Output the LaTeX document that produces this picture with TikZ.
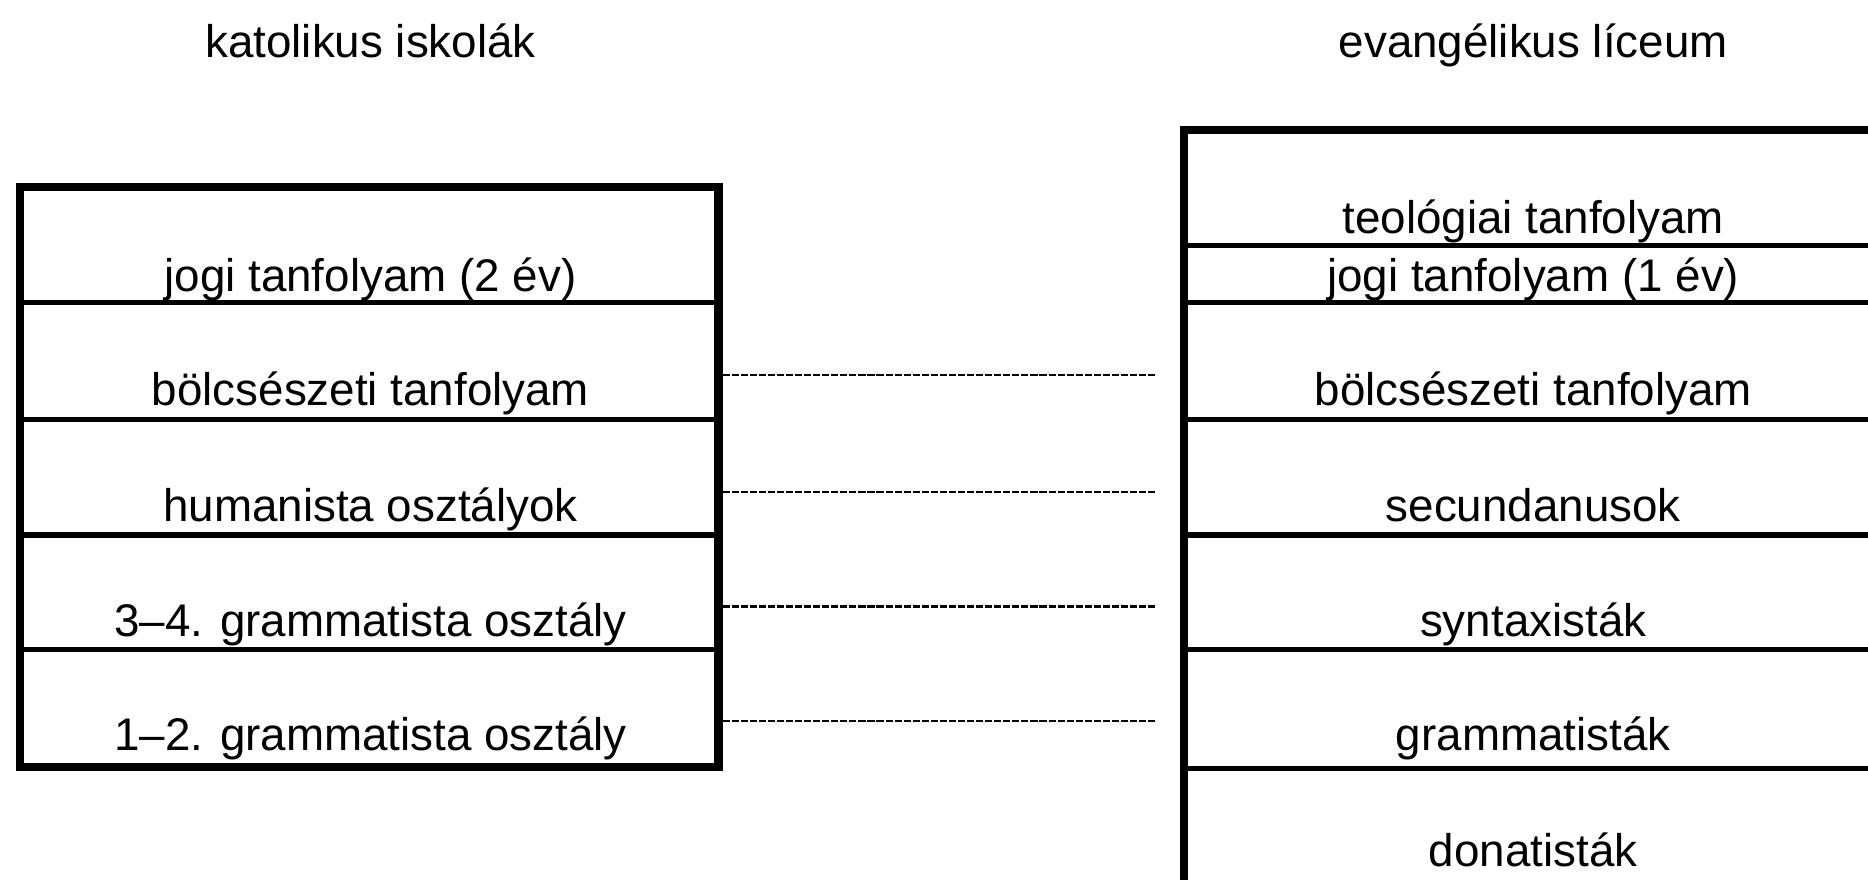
\documentclass[tikz,border=0pt]{standalone}
\usepackage{fontspec}
\setmainfont{Liberation Sans}
\usetikzlibrary{fit}
\begin{document}
\begin{tikzpicture}[x=0.5pt,y=-0.5pt,
  frame/.style={draw=black, line width=3.5pt, inner sep=0pt, rectangle},
  rule/.style={draw=black, line width=2.3pt},
  lbl/.style={inner sep=0pt, anchor=base, font=\fontsize{19.2}{23}\selectfont},
  conn/.style={draw=black, line width=1pt, dash pattern=on 3pt off 0.8pt, shorten >=10pt}]
\useasboundingbox (0,0) rectangle (1568,738);
\clip (0,0) rectangle (1568,738);
\fill[white] (0,0) rectangle (1568,738);
% titles
\node[lbl] (tl) at (311,48) {katolikus iskolák};
\node[lbl] (tr) at (1287,48) {evangélikus líceum};
% left box
\coordinate (lnw) at (17,157);
\coordinate (lse) at (603,644);
\node[frame, fit=(lnw)(lse)] (lbox) {};
\foreach \yy in {254,352,449,545} \draw[rule] (17,\yy) -- (603,\yy);
\node[lbl] (l1) at (311,245) {jogi tanfolyam (2 év)};
\node[lbl] (l2) at (311,340) {bölcsészeti tanfolyam};
\node[lbl] (l3) at (311,438) {humanista osztályok};
\node[lbl] (l4) at (311,534) {3–4. grammatista osztály};
\node[lbl] (l5) at (311,630) {1–2. grammatista osztály};
% right box
\coordinate (rnw) at (994,109);
\coordinate (rse) at (1582,790);
\node[frame, fit=(rnw)(rse)] (rbox) {};
\foreach \yy in {206,254,352,449,545,645} \draw[rule] (994,\yy) -- (1582,\yy);
\node[lbl] (r1) at (1287,196) {teológiai tanfolyam};
\node[lbl] (r2) at (1287,245) {jogi tanfolyam (1 év)};
\node[lbl] (r3) at (1287,340) {bölcsészeti tanfolyam};
\node[lbl] (r4) at (1287,438) {secundanusok};
\node[lbl] (r5) at (1287,534) {syntaxisták};
\node[lbl] (r6) at (1287,630) {grammatisták};
\node[lbl] (r7) at (1287,727) {donatisták};
% connectors
\draw[conn] ([yshift=12.5pt]l2.base -| lbox.east) -- ([yshift=12.5pt]r3.base -| rbox.west);
\draw[conn] ([yshift=12.5pt]l3.base -| lbox.east) -- ([yshift=12.5pt]r4.base -| rbox.west);
\draw[conn] ([yshift=12.5pt]l4.base -| lbox.east) -- ([yshift=12.5pt]r5.base -| rbox.west);
\draw[conn] ([yshift=12.5pt]l5.base -| lbox.east) -- ([yshift=12.5pt]r6.base -| rbox.west);
\end{tikzpicture}
\end{document}
